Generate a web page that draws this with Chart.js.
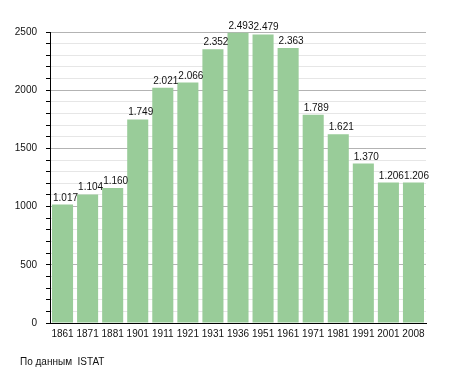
<!DOCTYPE html>
<html>
<head>
<meta charset="utf-8">
<script src="https://cdn.jsdelivr.net/npm/chart.js@4/dist/chart.umd.min.js"></script>
<style>
  body { margin: 0; background: #fff; }
  #box { position: relative; width: 455px; height: 373px; }
  #fonte { position: absolute; left: 20px; top: 356px; font: 10px "Liberation Sans", Arial, sans-serif; color: #111; white-space: pre; }
</style>
</head>
<body>
<div id="box">
  <canvas id="grafico" width="455" height="373"></canvas>
  <div id="fonte">По данным  ISTAT</div>
</div>
<script>
// Dati del grafico
var anni = ["1861", "1871", "1881", "1901", "1911", "1921", "1931", "1936", "1951", "1961", "1971", "1981", "1991", "2001", "2008"];
var abitanti = [1017, 1104, 1160, 1749, 2021, 2066, 2352, 2493, 2479, 2363, 1789, 1621, 1370, 1206, 1206];
var etichetteY = [0, 500, 1000, 1500, 2000, 2500];

// Formatta 1017 -> 1.017
function formatta(v) {
  return String(v).replace(/\B(?=(\d{3})+(?!\d))/g, ".");
}

// Plugin per scrivere i valori sopra le barre
var valoriSopra = {
  id: "valoriSopra",
  afterDatasetsDraw: function (chart) {
    var ctx = chart.ctx;
    var meta = chart.getDatasetMeta(0);
    ctx.save();
    ctx.font = '10px "Liberation Sans", Arial, sans-serif';
    ctx.fillStyle = "#111";
    ctx.textAlign = "left";
    ctx.textBaseline = "alphabetic";
    meta.data.forEach(function (bar, i) {
      ctx.fillText(formatta(abitanti[i]), bar.x - bar.width / 2 + 1, bar.y - 4);
    });
    ctx.restore();
  }
};

Chart.defaults.font.family = '"Liberation Sans", Arial, sans-serif';
Chart.defaults.font.size = 10;
Chart.defaults.color = "#111";

var ctx = document.getElementById("grafico").getContext("2d");
var grafico = new Chart(ctx, {
  type: "bar",
  data: {
    labels: anni,
    datasets: [
      {
        data: abitanti,
        backgroundColor: "#99cc99",
        borderWidth: 0,
        categoryPercentage: 1,
        barPercentage: 0.84
      }
    ]
  },
  options: {
    responsive: false,
    animation: false,
    layout: { padding: { top: 32, right: 29, left: 0, bottom: 0 } },
    plugins: {
      legend: { display: false },
      tooltip: { enabled: false }
    },
    scales: {
      x: {
        afterFit: function (scale) { scale.height = 50; },
        grid: { display: false, drawTicks: false },
        border: { color: "#000", width: 1 },
        ticks: { padding: 5, maxRotation: 0, autoSkip: false }
      },
      y: {
        min: 0,
        max: 2500,
        afterFit: function (scale) { scale.width = 50; },
        border: { color: "#000", width: 1 },
        grid: {
          color: function (c) {
            if (c.tick.value === 0) return "rgba(0,0,0,0)";
            return c.tick.value % 500 === 0 ? "#b3b3b3" : "#e6e6e6";
          },
          tickColor: "#000",
          tickLength: 4
        },
        ticks: {
          stepSize: 100,
          autoSkip: false,
          padding: 9,
          callback: function (value) {
            return etichetteY.indexOf(value) >= 0 ? value : "";
          }
        }
      }
    }
  },
  plugins: [valoriSopra]
});
</script>
</body>
</html>
